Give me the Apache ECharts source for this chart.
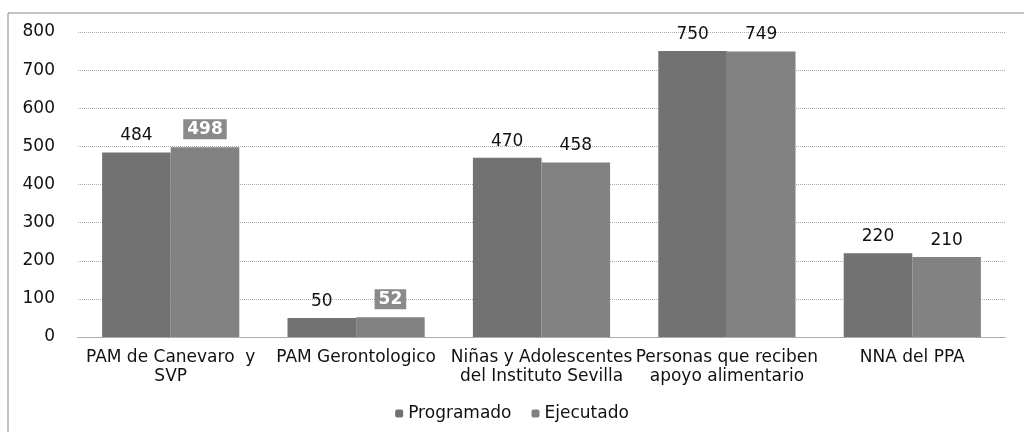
<!DOCTYPE html>
<html>
<head>
<meta charset="utf-8">
<script src="https://cdn.jsdelivr.net/npm/echarts@6/dist/echarts.min.js"></script>
<style>
  html, body { margin: 0; padding: 0; background: #fff; }
  #main { width: 1024px; height: 432px; }
</style>
</head>
<body>
<div id="main"></div>
<script>
// categorias del eje x
var categorias = ['PAM de Canevaro  y\nSVP', 'PAM Gerontologico', 'Niñas y Adolescentes\ndel Instituto Sevilla', 'Personas que reciben\napoyo alimentario', 'NNA del PPA'];
var programado = [484, 50, 470, 750, 220];
var ejecutado = [498, 52, 458, 749, 210];
// valores de ejecutado que llevan etiqueta resaltada
var resaltados = [498, 52];
var ticks = [0, 100, 200, 300, 400, 500, 600, 700, 800];

var myChart = echarts.init(document.getElementById('main'));

var fuente = "'DejaVu Sans', sans-serif";

myChart.setOption({
    animation: false,
    grid: {
        left: 78,
        right: 19,
        top: 32,
        bottom: 95
    },
    legend: {
        bottom: 5,
        left: 'center',
        itemWidth: 8,
        itemHeight: 8,
        itemGap: 20,
        textStyle: { fontFamily: fuente, fontSize: 17, color: '#111' },
        data: ['Programado', 'Ejecutado']
    },
    graphic: [
        {   // marco del grafico
            type: 'polyline',
            shape: { points: [[8, 432], [8, 13], [1024, 13]] },
            style: { stroke: '#888', lineWidth: 1, fill: null }
        }
    ],
    xAxis: {
        type: 'category',
        data: categorias,
        axisTick: { show: false },
        axisLine: { lineStyle: { color: '#999', type: 'dotted' } },
        axisLabel: {
            fontFamily: fuente,
            fontSize: 17,
            color: '#111',
            lineHeight: 19,
            margin: 11,
            interval: 0
        }
    },
    yAxis: {
        type: 'value',
        min: ticks[0],
        max: ticks[ticks.length - 1],
        interval: 100,
        axisLine: { show: false },
        axisTick: { show: false },
        splitLine: { lineStyle: { color: '#aaa', type: 'dotted' } },
        axisLabel: {
            fontFamily: fuente,
            fontSize: 17,
            color: '#111',
            margin: 23
        }
    },
    series: [
        {
            name: 'Programado',
            type: 'bar',
            barCategoryGap: '26%',
            barGap: '0%',
            itemStyle: { color: '#727272' },
            label: {
                show: true,
                position: 'top',
                distance: 8,
                fontFamily: fuente,
                fontSize: 17,
                color: '#111'
            },
            data: programado
        },
        {
            name: 'Ejecutado',
            type: 'bar',
            itemStyle: { color: '#828282' },
            label: {
                show: true,
                position: 'top',
                distance: 8,
                fontFamily: fuente,
                fontSize: 17,
                color: '#111'
            },
            data: ejecutado.map(function (v) {
                if (resaltados.indexOf(v) >= 0) {
                    return {
                        value: v,
                        label: {
                            color: '#fff',
                            fontWeight: 'bold',
                            backgroundColor: '#8a8a8a',
                            padding: [2, 4, 1, 4]
                        }
                    };
                }
                return v;
            })
        }
    ]
});
</script>
</body>
</html>
